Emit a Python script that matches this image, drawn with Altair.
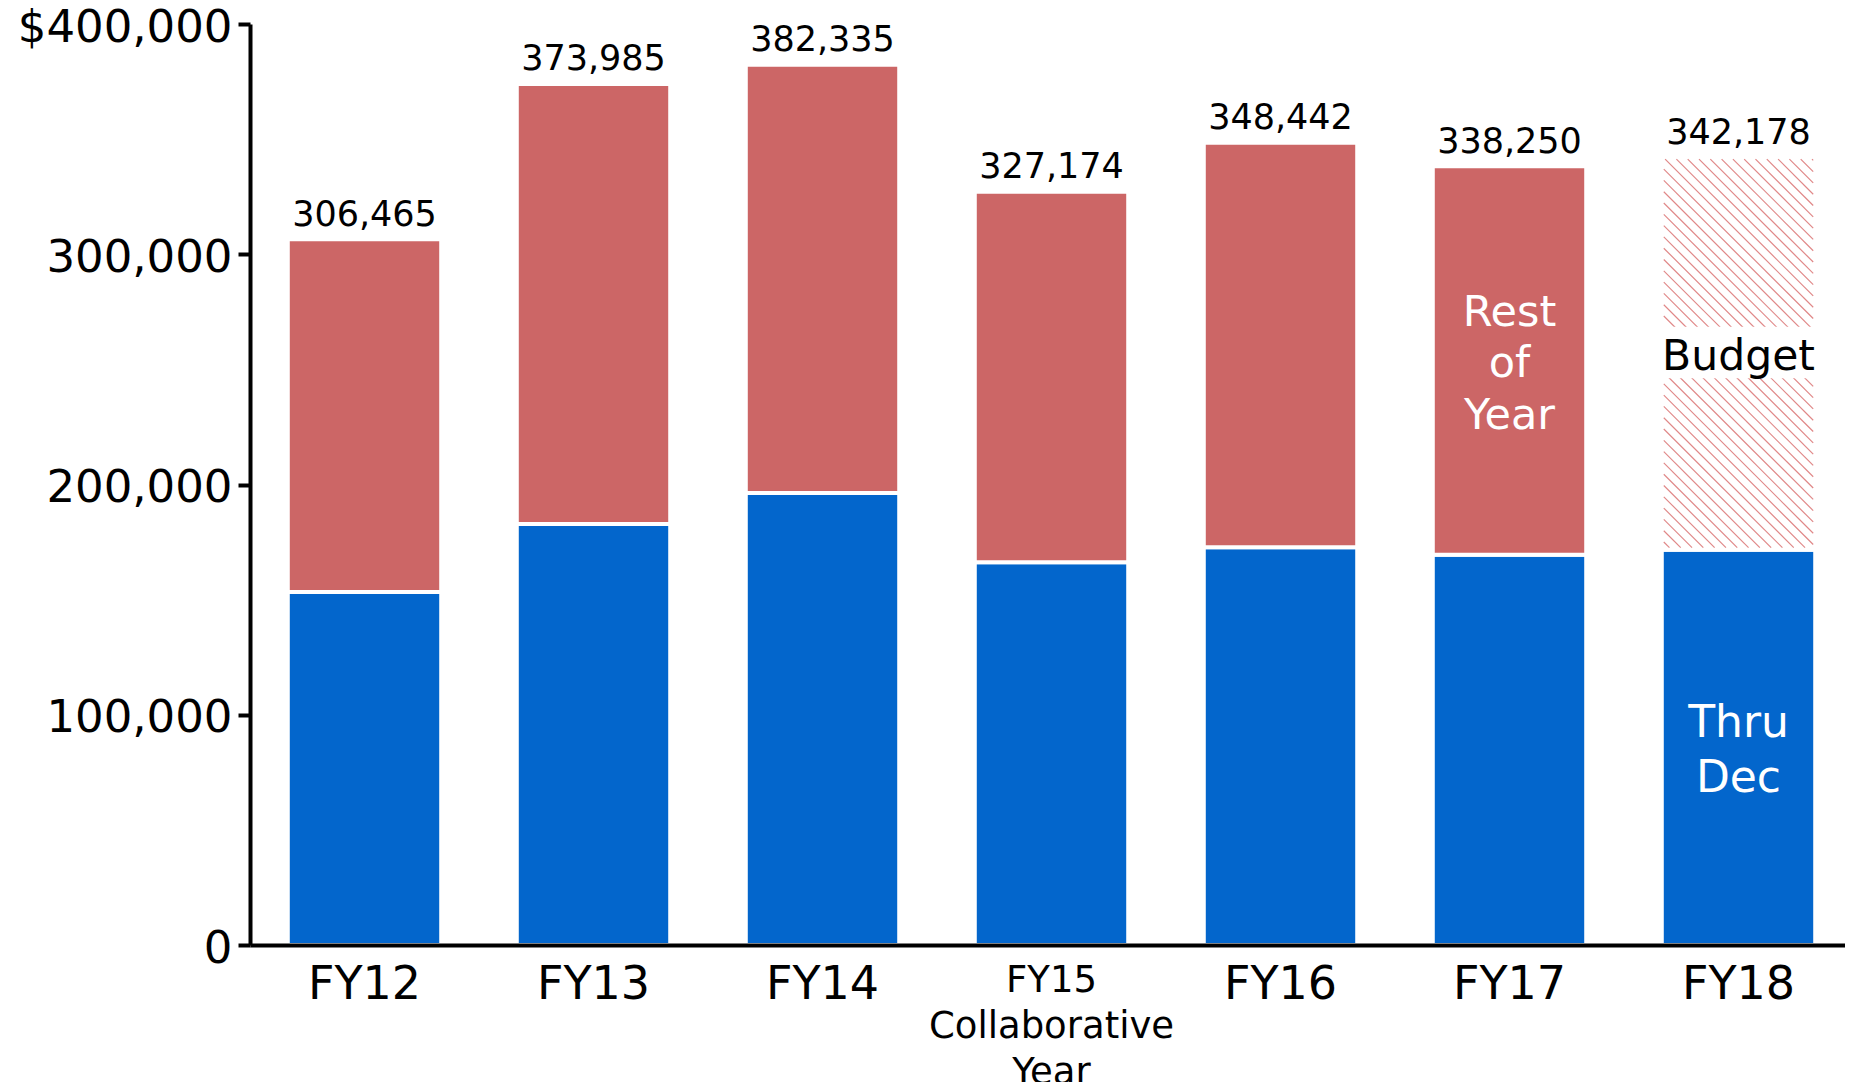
import altair as alt
import pandas as pd

# ---------------- data ----------------
fiscal_years = ["FY12", "FY13", "FY14", "FY15\nCollaborative\nYear", "FY16", "FY17", "FY18"]
thru_dec = [153300, 182800, 196300, 166200, 172700, 169500, 171700]
year_totals = [306465, 373985, 382335, 327174, 348442, 338250, 342178]
is_budget = [False, False, False, False, False, False, True]

y_tick_values = [0, 100000, 200000, 300000, 400000]
y_tick_labels = ["0", "100,000", "200,000", "300,000", "$400,000"]

part_names = ["Thru Dec", "Rest of Year", "Budget"]
part_colors = ["#0366cc", "#cc6666", "#ffffff"]

# annotation texts (in-bar labels); value = position of the first line
note_fy = ["FY17", "FY18", "FY18"]
note_text = ["Rest\nof\nYear", "Thru\nDec", "Budget"]
note_value = [274700, 96000, 255500]
note_color = ["#ffffff", "#ffffff", "#000000"]
note_size = [43, 44, 42.5]
note_lineheight = [51.5, 55, 50]
budget_box = [246100, 268500]  # white box behind "Budget"

# ---------------- layout ----------------
FONT = "DejaVu Sans"
W, H = 1603, 921          # scale ranges (plot reaches the right edge of the page)
VIEW_W = 1595             # view width kept inside the page body
YMAX = 400000
PAD_INNER, PAD_OUTER = 0.33, 0.165

# ---------------- tables ----------------
rows = []
for fy, td, tot, bud in zip(fiscal_years, thru_dec, year_totals, is_budget):
    rows.append({"fy": fy, "part": "Thru Dec", "y0": 0, "y1": td})
    rows.append({"fy": fy, "part": "Budget" if bud else "Rest of Year", "y0": td, "y1": tot})
bars_df = pd.DataFrame(rows)

totals_df = pd.DataFrame({
    "fy": fiscal_years,
    "total": year_totals,
    "label": [f"{v:,}" for v in year_totals],
})

short_names = [f.split("\n")[0] for f in fiscal_years]
notes_df = pd.DataFrame({
    "fy": [fiscal_years[short_names.index(nm)] for nm in note_fy],
    "text": note_text,
    "v": note_value,
})

# hatch pattern for the budget bar: diagonal stripes clipped to the bar
n = len(fiscal_years)
step = W / (n - PAD_INNER + 2 * PAD_OUTER)
bi = is_budget.index(True)
band_left = (PAD_OUTER + bi) * step
band_w = (1 - PAD_INNER) * step
inset = 2.0
xL, xR = band_left + inset, band_left + band_w - inset
hB = thru_dec[bi] * H / YMAX + inset
hT = year_totals[bi] * H / YMAX - inset
spacing = 11.3
stripes = []
c = xL + hB + spacing / 2
while c < xR + hT:
    xs = max(xL, c - hT)
    xe = min(xR, c - hB)
    if xe > xs:
        stripes.append({
            "sx": xs * n / W, "sy": (c - xs) * YMAX / H,
            "sx2": xe * n / W, "sy2": (c - xe) * YMAX / H,
        })
    c += spacing
stripes_df = pd.DataFrame(stripes)

# ---------------- encodings ----------------
label_expr = " : ".join(
    f"datum.value == {v} ? '{t}'" for v, t in zip(y_tick_values, y_tick_labels)
) + " : ''"

y_scale = alt.Scale(domain=[0, YMAX], nice=False, zero=True)
y_axis = alt.Axis(
    values=y_tick_values, labelExpr=label_expr, title=None, grid=False,
    domainColor="black", domainWidth=4, tickColor="black", tickWidth=4,
    tickSize=12, labelPadding=6, labelFontSize=45, labelFont=FONT,
    labelColor="black", labelLimit=500, labelOffset=3, zindex=1,
)


def yenc(field):
    return alt.Y(f"{field}:Q", scale=y_scale, axis=y_axis)


x_axis = alt.Axis(
    title=None, labelAngle=0, ticks=False, tickSize=0, domainColor="black",
    domainWidth=4, labelPadding=17, labelFont=FONT, labelColor="black",
    labelFontSize={"condition": {"test": "indexof(datum.value, '\\n') >= 0", "value": 37}, "value": 46},
    labelExpr="split(datum.value, '\\n')", labelLineHeight=46,
    labelLimit=500, labelOverlap=False, zindex=1,
)


def xenc(with_axis=True):
    return alt.X(
        "fy:N", sort=fiscal_years,
        scale=alt.Scale(domain=fiscal_years, range=[0, W],
                        paddingInner=PAD_INNER, paddingOuter=PAD_OUTER),
        axis=x_axis if with_axis else None,
    )


bars = alt.Chart(bars_df).mark_bar(stroke="white", strokeWidth=4).encode(
    x=xenc(),
    y=yenc("y0"),
    y2="y1:Q",
    color=alt.Color("part:N", scale=alt.Scale(domain=part_names, range=part_colors), legend=None),
)

totals = alt.Chart(totals_df).mark_text(
    baseline="alphabetic", dy=-13.5, fontSize=35, font=FONT, color="black"
).encode(x=xenc(), y=yenc("total"), text="label:N")

box_df = pd.DataFrame({"fy": [fiscal_years[bi]], "b0": [budget_box[0]], "b1": [budget_box[1]]})
box = alt.Chart(box_df).mark_bar(color="white").encode(x=xenc(False), y=yenc("b0"), y2="b1:Q")

note_layers = []
for i in range(len(note_text)):
    d = notes_df.iloc[[i]]
    note_layers.append(
        alt.Chart(d).mark_text(
            fontSize=note_size[i], font=FONT, color=note_color[i], baseline="middle",
            lineBreak="\n", lineHeight=note_lineheight[i],
        ).encode(x=xenc(False), y=yenc("v"), text="text:N")
    )

band_layer = alt.layer(bars, totals)

stripe_layer = alt.Chart(stripes_df).mark_rule(color="#e08888", strokeWidth=1.2).encode(
    x=alt.X("sx:Q", scale=alt.Scale(domain=[0, n], range=[0, W], nice=False, zero=False), axis=None),
    x2="sx2:Q",
    y=yenc("sy"),
    y2="sy2:Q",
)

top_layer = alt.layer(box, *note_layers)

chart = alt.layer(band_layer, stripe_layer, top_layer).resolve_scale(x="independent").properties(
    width=VIEW_W,
    height=H,
    autosize=alt.AutoSizeParams(type="none"),
    padding={"left": 242, "top": 16, "right": 0, "bottom": 137},
    background="white",
).configure_view(stroke=None)

chart.save("out.html", embed_options={"renderer": "svg", "actions": False})
